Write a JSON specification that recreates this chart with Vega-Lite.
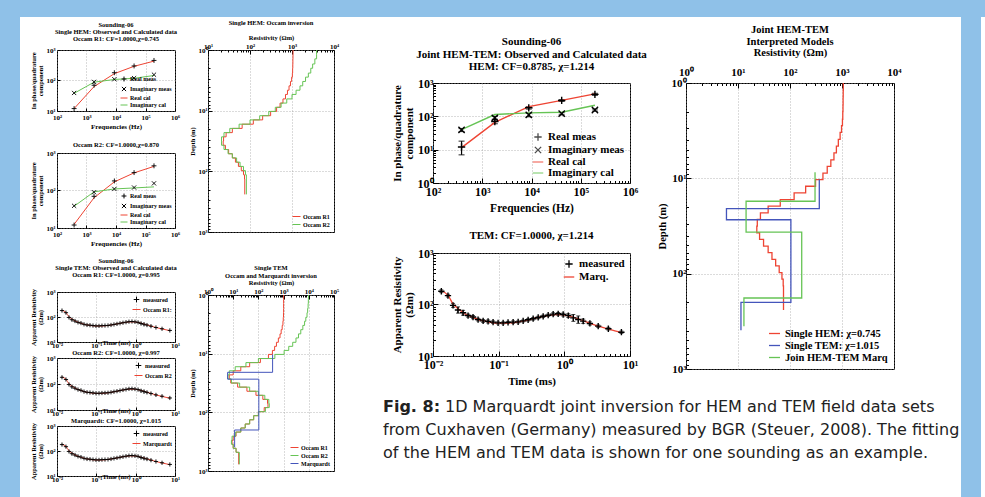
{
"$schema":"https://vega.github.io/schema/vega-lite/v6.json",
"padding":0,
"background":"white",
"config":{
 "view":{"stroke":"black","strokeWidth":1},
 "font":"Liberation Serif",
 "axis":{"labelFont":"Liberation Serif","titleFont":"Liberation Serif","labelFontWeight":"bold","titleFontWeight":"bold","labelColor":"black","titleColor":"black","domain":false,"grid":true,"gridColor":"#999999","gridDash":[1,2],"gridWidth":0.7,"tickColor":"black","tickSize":-3,"labelPadding":5,"titlePadding":2,"labelFlush":false,"labelOverlap":false},
 "title":{"font":"Liberation Serif","fontWeight":"bold","color":"black","anchor":"middle"},
 "legend":{"labelFont":"Liberation Serif","labelFontWeight":"bold","labelColor":"black","rowPadding":0,"padding":1},
 "concat":{"spacing":0}
},
"datasets":{
 "hem_meas":[
  {"type":"Real meas","f":380,"v":12,"lo":7,"hi":18},
  {"type":"Real meas","f":1800,"v":70,"lo":60,"hi":82},
  {"type":"Real meas","f":8800,"v":180,"lo":165,"hi":195},
  {"type":"Real meas","f":41000,"v":300,"lo":280,"hi":320},
  {"type":"Real meas","f":194000,"v":455,"lo":425,"hi":490},
  {"type":"Imaginary meas","f":380,"v":39,"lo":35,"hi":43},
  {"type":"Imaginary meas","f":1800,"v":90,"lo":80,"hi":100},
  {"type":"Imaginary meas","f":8800,"v":110,"lo":97,"hi":123},
  {"type":"Imaginary meas","f":41000,"v":120,"lo":110,"hi":130},
  {"type":"Imaginary meas","f":194000,"v":155,"lo":143,"hi":167}],
 "hem_r1_cal":[
  {"type":"Real cal","f":380,"v":12},{"type":"Real cal","f":1800,"v":63},{"type":"Real cal","f":8800,"v":168},{"type":"Real cal","f":41000,"v":292},{"type":"Real cal","f":194000,"v":432},
  {"type":"Imaginary cal","f":380,"v":38},{"type":"Imaginary cal","f":1800,"v":88},{"type":"Imaginary cal","f":8800,"v":108},{"type":"Imaginary cal","f":41000,"v":118},{"type":"Imaginary cal","f":194000,"v":146}],
 "hem_r2_cal":[
  {"type":"Real cal","f":380,"v":12.5},{"type":"Real cal","f":1800,"v":64},{"type":"Real cal","f":8800,"v":170},{"type":"Real cal","f":41000,"v":295},{"type":"Real cal","f":194000,"v":440},
  {"type":"Imaginary cal","f":380,"v":38},{"type":"Imaginary cal","f":1800,"v":92},{"type":"Imaginary cal","f":8800,"v":110},{"type":"Imaginary cal","f":41000,"v":117},{"type":"Imaginary cal","f":194000,"v":125}],
 "hem_joint_cal":[
  {"type":"Real cal","f":380,"v":11.5},{"type":"Real cal","f":1800,"v":66},{"type":"Real cal","f":8800,"v":195},{"type":"Real cal","f":41000,"v":300},{"type":"Real cal","f":194000,"v":470},
  {"type":"Imaginary cal","f":380,"v":40},{"type":"Imaginary cal","f":1800,"v":113},{"type":"Imaginary cal","f":8800,"v":127},{"type":"Imaginary cal","f":41000,"v":133},{"type":"Imaginary cal","f":194000,"v":215}],
 "tem_meas":[
  {"t":0.0134,"rho":181,"lo":170,"hi":193},{"t":0.0169,"rho":149,"lo":140,"hi":158},{"t":0.0202,"rho":96,"lo":88,"hi":105},{"t":0.024,"rho":78,"lo":68,"hi":90},{"t":0.0287,"rho":69,"lo":62,"hi":77},{"t":0.0342,"rho":61,"lo":57,"hi":65},{"t":0.0407,"rho":57,"lo":53,"hi":61},{"t":0.0486,"rho":51,"lo":48,"hi":54},{"t":0.058,"rho":48,"lo":45,"hi":51},{"t":0.069,"rho":47,"lo":44,"hi":50},{"t":0.0822,"rho":45.5,"lo":43,"hi":48},{"t":0.098,"rho":44,"lo":42,"hi":46},{"t":0.117,"rho":44,"lo":42,"hi":46},{"t":0.139,"rho":45,"lo":43,"hi":47},{"t":0.166,"rho":45.5,"lo":43,"hi":48},{"t":0.198,"rho":46,"lo":44,"hi":48},{"t":0.236,"rho":48,"lo":46,"hi":50},{"t":0.281,"rho":50.5,"lo":48,"hi":53},{"t":0.335,"rho":53,"lo":50,"hi":56},{"t":0.4,"rho":56,"lo":53,"hi":59},{"t":0.476,"rho":59,"lo":56,"hi":62},{"t":0.568,"rho":62,"lo":59,"hi":65},{"t":0.676,"rho":65,"lo":61,"hi":69},{"t":0.806,"rho":66,"lo":62,"hi":70},{"t":0.96,"rho":64,"lo":60,"hi":68},{"t":1.15,"rho":61,"lo":56,"hi":66},{"t":1.37,"rho":55,"lo":47,"hi":64},{"t":1.63,"rho":51,"lo":43,"hi":60},{"t":1.94,"rho":47.6,"lo":43,"hi":52},{"t":2.45,"rho":42.9,"lo":40,"hi":46},{"t":3.28,"rho":38,"lo":36,"hi":40},{"t":4.68,"rho":33.8,"lo":32,"hi":36},{"t":7.4,"rho":29,"lo":27.5,"hi":30.5}],
 "tem_cal":[
  {"t":0.0134,"rho":185},{"t":0.017,"rho":150},{"t":0.02,"rho":104},{"t":0.025,"rho":80},{"t":0.03,"rho":67},{"t":0.04,"rho":57},{"t":0.05,"rho":50.5},{"t":0.065,"rho":47},{"t":0.08,"rho":44.5},{"t":0.1,"rho":43.5},{"t":0.13,"rho":43.5},{"t":0.17,"rho":44.5},{"t":0.22,"rho":47},{"t":0.3,"rho":51},{"t":0.4,"rho":56},{"t":0.55,"rho":61},{"t":0.7,"rho":63.5},{"t":0.9,"rho":63.5},{"t":1.1,"rho":61},{"t":1.4,"rho":56},{"t":1.8,"rho":50},{"t":2.5,"rho":43},{"t":3.5,"rho":37},{"t":5,"rho":32.5},{"t":7.4,"rho":28.5}],
 "hem_models":[
  {"m":"Occam R1","d":1,"r":1060},{"m":"Occam R1","d":1.2,"r":1055},{"m":"Occam R1","d":1.4,"r":1050},{"m":"Occam R1","d":1.7,"r":1045},{"m":"Occam R1","d":2,"r":1035},{"m":"Occam R1","d":2.4,"r":1020},{"m":"Occam R1","d":2.8,"r":980},{"m":"Occam R1","d":3.3,"r":920},{"m":"Occam R1","d":3.9,"r":850},{"m":"Occam R1","d":4.6,"r":780},{"m":"Occam R1","d":5.4,"r":700},{"m":"Occam R1","d":6.4,"r":610},{"m":"Occam R1","d":7.5,"r":520},{"m":"Occam R1","d":8.8,"r":430},{"m":"Occam R1","d":10.3,"r":310},{"m":"Occam R1","d":12.1,"r":200},{"m":"Occam R1","d":14.2,"r":120},{"m":"Occam R1","d":16.7,"r":65},{"m":"Occam R1","d":19.6,"r":38},{"m":"Occam R1","d":23,"r":27},{"m":"Occam R1","d":27,"r":23.5},{"m":"Occam R1","d":31.7,"r":23},{"m":"Occam R1","d":37.2,"r":26},{"m":"Occam R1","d":43.7,"r":31},{"m":"Occam R1","d":51.3,"r":38},{"m":"Occam R1","d":60.2,"r":45},{"m":"Occam R1","d":70.7,"r":53},{"m":"Occam R1","d":83,"r":62},{"m":"Occam R1","d":97.4,"r":70},{"m":"Occam R1","d":114,"r":74},{"m":"Occam R1","d":134,"r":75},{"m":"Occam R1","d":240,"r":75},
  {"m":"Occam R2","d":1,"r":3850},{"m":"Occam R2","d":1.2,"r":3850},{"m":"Occam R2","d":1.4,"r":3500},{"m":"Occam R2","d":1.7,"r":3100},{"m":"Occam R2","d":2,"r":2800},{"m":"Occam R2","d":2.4,"r":2450},{"m":"Occam R2","d":2.8,"r":2100},{"m":"Occam R2","d":3.3,"r":1800},{"m":"Occam R2","d":3.9,"r":1550},{"m":"Occam R2","d":4.6,"r":1250},{"m":"Occam R2","d":5.4,"r":1000},{"m":"Occam R2","d":6.4,"r":750},{"m":"Occam R2","d":7.5,"r":550},{"m":"Occam R2","d":8.8,"r":400},{"m":"Occam R2","d":10.3,"r":280},{"m":"Occam R2","d":12.1,"r":170},{"m":"Occam R2","d":14.2,"r":100},{"m":"Occam R2","d":16.7,"r":55},{"m":"Occam R2","d":19.6,"r":33},{"m":"Occam R2","d":23,"r":24},{"m":"Occam R2","d":27,"r":21},{"m":"Occam R2","d":31.7,"r":21},{"m":"Occam R2","d":37.2,"r":24},{"m":"Occam R2","d":43.7,"r":30},{"m":"Occam R2","d":51.3,"r":38},{"m":"Occam R2","d":60.2,"r":48},{"m":"Occam R2","d":70.7,"r":58},{"m":"Occam R2","d":83,"r":70},{"m":"Occam R2","d":97.4,"r":78},{"m":"Occam R2","d":114,"r":82},{"m":"Occam R2","d":134,"r":82},{"m":"Occam R2","d":240,"r":82}],
 "tem_models":[
  {"m":"Occam R1","d":1,"r":1000},{"m":"Occam R1","d":1.2,"r":1000},{"m":"Occam R1","d":1.4,"r":1000},{"m":"Occam R1","d":1.7,"r":1000},{"m":"Occam R1","d":2,"r":990},{"m":"Occam R1","d":2.4,"r":970},{"m":"Occam R1","d":2.8,"r":940},{"m":"Occam R1","d":3.3,"r":880},{"m":"Occam R1","d":3.9,"r":800},{"m":"Occam R1","d":4.6,"r":720},{"m":"Occam R1","d":5.4,"r":620},{"m":"Occam R1","d":6.4,"r":520},{"m":"Occam R1","d":7.5,"r":440},{"m":"Occam R1","d":8.8,"r":360},{"m":"Occam R1","d":10.3,"r":250},{"m":"Occam R1","d":12.1,"r":120},{"m":"Occam R1","d":14.2,"r":45},{"m":"Occam R1","d":16.7,"r":20},{"m":"Occam R1","d":19.6,"r":10},{"m":"Occam R1","d":23,"r":7},{"m":"Occam R1","d":27,"r":8},{"m":"Occam R1","d":31.7,"r":15},{"m":"Occam R1","d":37.2,"r":35},{"m":"Occam R1","d":43.7,"r":80},{"m":"Occam R1","d":51.3,"r":150},{"m":"Occam R1","d":60.2,"r":230},{"m":"Occam R1","d":70.7,"r":240},{"m":"Occam R1","d":83,"r":170},{"m":"Occam R1","d":97.4,"r":100},{"m":"Occam R1","d":114,"r":65},{"m":"Occam R1","d":134,"r":45},{"m":"Occam R1","d":158,"r":30},{"m":"Occam R1","d":185,"r":20},{"m":"Occam R1","d":217,"r":13},{"m":"Occam R1","d":255,"r":10},{"m":"Occam R1","d":300,"r":9},{"m":"Occam R1","d":350,"r":10},{"m":"Occam R1","d":410,"r":13},{"m":"Occam R1","d":480,"r":16.5},{"m":"Occam R1","d":770,"r":16.5},
  {"m":"Occam R2","d":1,"r":9700},{"m":"Occam R2","d":1.2,"r":9600},{"m":"Occam R2","d":1.4,"r":9400},{"m":"Occam R2","d":1.7,"r":9000},{"m":"Occam R2","d":2,"r":8500},{"m":"Occam R2","d":2.4,"r":7600},{"m":"Occam R2","d":2.8,"r":6800},{"m":"Occam R2","d":3.3,"r":5800},{"m":"Occam R2","d":3.9,"r":4800},{"m":"Occam R2","d":4.6,"r":3900},{"m":"Occam R2","d":5.4,"r":3100},{"m":"Occam R2","d":6.4,"r":2300},{"m":"Occam R2","d":7.5,"r":1600},{"m":"Occam R2","d":8.8,"r":1050},{"m":"Occam R2","d":10.3,"r":450},{"m":"Occam R2","d":12.1,"r":100},{"m":"Occam R2","d":14.2,"r":32},{"m":"Occam R2","d":16.7,"r":12},{"m":"Occam R2","d":19.6,"r":7},{"m":"Occam R2","d":23,"r":6.2},{"m":"Occam R2","d":27,"r":8.5},{"m":"Occam R2","d":31.7,"r":18},{"m":"Occam R2","d":37.2,"r":45},{"m":"Occam R2","d":43.7,"r":100},{"m":"Occam R2","d":51.3,"r":180},{"m":"Occam R2","d":60.2,"r":260},{"m":"Occam R2","d":70.7,"r":270},{"m":"Occam R2","d":83,"r":190},{"m":"Occam R2","d":97.4,"r":100},{"m":"Occam R2","d":114,"r":65},{"m":"Occam R2","d":134,"r":45},{"m":"Occam R2","d":158,"r":30},{"m":"Occam R2","d":185,"r":20},{"m":"Occam R2","d":217,"r":12.5},{"m":"Occam R2","d":255,"r":9},{"m":"Occam R2","d":300,"r":8.5},{"m":"Occam R2","d":350,"r":10},{"m":"Occam R2","d":410,"r":13},{"m":"Occam R2","d":480,"r":17.5},{"m":"Occam R2","d":770,"r":17.5},
  {"m":"Marquardt","d":10.3,"r":366},{"m":"Marquardt","d":20.8,"r":6},{"m":"Marquardt","d":27.2,"r":104},{"m":"Marquardt","d":200,"r":11.4},{"m":"Marquardt","d":393,"r":11.4}],
 "joint_models":[
  {"m":"Single HEM: χ=0.745","d":1,"r":1060},{"m":"Single HEM: χ=0.745","d":1.2,"r":1055},{"m":"Single HEM: χ=0.745","d":1.4,"r":1050},{"m":"Single HEM: χ=0.745","d":1.7,"r":1045},{"m":"Single HEM: χ=0.745","d":2,"r":1035},{"m":"Single HEM: χ=0.745","d":2.4,"r":1020},{"m":"Single HEM: χ=0.745","d":2.8,"r":980},{"m":"Single HEM: χ=0.745","d":3.3,"r":920},{"m":"Single HEM: χ=0.745","d":3.9,"r":850},{"m":"Single HEM: χ=0.745","d":4.6,"r":780},{"m":"Single HEM: χ=0.745","d":5.4,"r":700},{"m":"Single HEM: χ=0.745","d":6.4,"r":610},{"m":"Single HEM: χ=0.745","d":7.5,"r":520},{"m":"Single HEM: χ=0.745","d":8.8,"r":430},{"m":"Single HEM: χ=0.745","d":10.3,"r":310},{"m":"Single HEM: χ=0.745","d":12.1,"r":200},{"m":"Single HEM: χ=0.745","d":14.2,"r":120},{"m":"Single HEM: χ=0.745","d":16.7,"r":65},{"m":"Single HEM: χ=0.745","d":19.6,"r":38},{"m":"Single HEM: χ=0.745","d":23,"r":27},{"m":"Single HEM: χ=0.745","d":27,"r":23.5},{"m":"Single HEM: χ=0.745","d":31.7,"r":23},{"m":"Single HEM: χ=0.745","d":37.2,"r":26},{"m":"Single HEM: χ=0.745","d":43.7,"r":31},{"m":"Single HEM: χ=0.745","d":51.3,"r":38},{"m":"Single HEM: χ=0.745","d":60.2,"r":45},{"m":"Single HEM: χ=0.745","d":70.7,"r":53},{"m":"Single HEM: χ=0.745","d":83,"r":62},{"m":"Single HEM: χ=0.745","d":97.4,"r":70},{"m":"Single HEM: χ=0.745","d":114,"r":74},{"m":"Single HEM: χ=0.745","d":134,"r":75},{"m":"Single HEM: χ=0.745","d":240,"r":75},
  {"m":"Single TEM: χ=1.015","d":10.3,"r":366},{"m":"Single TEM: χ=1.015","d":20.8,"r":6},{"m":"Single TEM: χ=1.015","d":27.2,"r":104},{"m":"Single TEM: χ=1.015","d":200,"r":11.4},{"m":"Single TEM: χ=1.015","d":393,"r":11.4},
  {"m":"Join HEM-TEM Marq","d":8.65,"r":303},{"m":"Join HEM-TEM Marq","d":17.4,"r":14.3},{"m":"Join HEM-TEM Marq","d":36.6,"r":168},{"m":"Join HEM-TEM Marq","d":180,"r":13},{"m":"Join HEM-TEM Marq","d":357,"r":13}],
 "caption":[
  {"line":1,"bold":"Fig. 8:","txt":"1D Marquardt joint inversion for HEM and TEM field data sets"},
  {"line":2,"bold":"","txt":"from Cuxhaven (Germany) measured by BGR (Steuer, 2008). The fitting"},
  {"line":3,"bold":"","txt":"of the HEM and TEM data is shown for one sounding as an example."}]
},
"spacing":0,
"resolve":{"scale":{"color":"independent","shape":"independent"},"legend":{"color":"independent","shape":"independent"}},
"vconcat":[
 {"width":985,"height":17,"view":{"fill":"#8fc1e8","stroke":null},"data":{"values":[{}]},"mark":{"type":"rect","opacity":0}},
 {"spacing":1,"resolve":{"scale":{"color":"independent","shape":"independent"},"legend":{"color":"independent","shape":"independent"}},"hconcat":[
 {"spacing":10,"resolve":{"scale":{"color":"independent","shape":"independent"},"legend":{"color":"independent","shape":"independent"}},"hconcat":[
 {"width":20,"height":480,"view":{"fill":"#8fc1e8","stroke":null},"data":{"values":[{}]},"mark":{"type":"rect","opacity":0}},
  {"spacing":43,"resolve":{"scale":{"color":"independent","shape":"independent"},"legend":{"color":"independent","shape":"independent"}},"hconcat":[
   {"spacing":0,"resolve":{"scale":{"color":"independent","shape":"independent"},"legend":{"color":"independent","shape":"independent"}},"vconcat":[
   {"width":1,"height":2,"view":{"stroke":null},"data":{"values":[{}]},"mark":{"type":"rect","opacity":0}},
   {"spacing":8,"resolve":{"scale":{"color":"independent","shape":"independent"},"legend":{"color":"independent","shape":"independent"}},"hconcat":[
    {"spacing":10,"resolve":{"scale":{"color":"independent","shape":"independent"},"legend":{"color":"independent","shape":"independent"}},"vconcat":[
     {"spacing":11,"resolve":{"scale":{"color":"independent","shape":"independent"},"legend":{"color":"independent","shape":"independent"}},"vconcat":[
      {"width":118,"height":61,
       "title":{"text":["Sounding-06","Single HEM: Observed and Calculated data","Occam R1: CF=1.0000,χ=0.745"],"fontSize":6.5,"lineHeight":7,"offset":4},
       "encoding":{
        "x":{"field":"f","type":"quantitative","scale":{"type":"log","domain":[100,1000000]},"axis":{"title":"Frequencies (Hz)","values":[100,1000,10000,100000,1000000],"labelExpr":"'10' + ['⁻²','⁻¹','⁰','¹','²','³','⁴','⁵','⁶'][round(log(datum.value)/LN10)+2]","labelFontSize":7,"titleFontSize":7}},
        "y":{"field":"v","type":"quantitative","scale":{"type":"log","domain":[10,1000]},"axis":{"title":["In phase/quadrature","component"],"values":[10,100,1000],"labelExpr":"'10' + ['⁻²','⁻¹','⁰','¹','²','³','⁴','⁵','⁶'][round(log(datum.value)/LN10)+2]","labelFontSize":7,"titleFontSize":6.5,"titleLineHeight":7}},
        "color":{"field":"type","type":"nominal","scale":{"domain":["Real meas","Imaginary meas","Real cal","Imaginary cal"],"range":["black","black","#ee4433","#66c455"]},"legend":{"title":null,"orient":"bottom-right","labelFontSize":6,"symbolSize":49,"offset":2,"symbolStrokeWidth":1,"labelOffset":2}}
       },
       "layer":[
        {"data":{"name":"hem_r1_cal"},"mark":{"type":"line","strokeWidth":1}},
        {"data":{"name":"hem_meas"},"mark":{"type":"point","filled":false,"size":49,"strokeWidth":0.9,"opacity":1},"encoding":{"shape":{"field":"type","type":"nominal","scale":{"domain":["Real meas","Imaginary meas","Real cal","Imaginary cal"],"range":["M-0.7,0L0.7,0M0,-0.7L0,0.7","M-0.6,-0.6L0.6,0.6M-0.6,0.6L0.6,-0.6","stroke","stroke"]},"legend":{"title":null,"orient":"bottom-right","labelFontSize":6,"symbolSize":49,"offset":2,"symbolStrokeWidth":1,"labelOffset":2}}}}
       ]},
      {"width":118,"height":75,
       "title":{"text":"Occam R2: CF=1.0000,χ=0.870","fontSize":6.5,"offset":1},
       "encoding":{
        "x":{"field":"f","type":"quantitative","scale":{"type":"log","domain":[100,1000000]},"axis":{"title":"Frequencies (Hz)","values":[100,1000,10000,100000,1000000],"labelExpr":"'10' + ['⁻²','⁻¹','⁰','¹','²','³','⁴','⁵','⁶'][round(log(datum.value)/LN10)+2]","labelFontSize":7,"titleFontSize":7}},
        "y":{"field":"v","type":"quantitative","scale":{"type":"log","domain":[10,1000]},"axis":{"title":["In phase/quadrature","component"],"values":[10,100,1000],"labelExpr":"'10' + ['⁻²','⁻¹','⁰','¹','²','³','⁴','⁵','⁶'][round(log(datum.value)/LN10)+2]","labelFontSize":7,"titleFontSize":6.5,"titleLineHeight":7}},
        "color":{"field":"type","type":"nominal","scale":{"domain":["Real meas","Imaginary meas","Real cal","Imaginary cal"],"range":["black","black","#ee4433","#66c455"]},"legend":{"title":null,"orient":"bottom-right","labelFontSize":6,"symbolSize":49,"offset":2,"symbolStrokeWidth":1,"labelOffset":2}}
       },
       "layer":[
        {"data":{"name":"hem_r2_cal"},"mark":{"type":"line","strokeWidth":1}},
        {"data":{"name":"hem_meas"},"mark":{"type":"point","filled":false,"size":49,"strokeWidth":0.9,"opacity":1},"encoding":{"shape":{"field":"type","type":"nominal","scale":{"domain":["Real meas","Imaginary meas","Real cal","Imaginary cal"],"range":["M-0.7,0L0.7,0M0,-0.7L0,0.7","M-0.6,-0.6L0.6,0.6M-0.6,0.6L0.6,-0.6","stroke","stroke"]},"legend":{"title":null,"orient":"bottom-right","labelFontSize":6,"symbolSize":49,"offset":2,"symbolStrokeWidth":1,"labelOffset":2}}}}
       ]}
     ]},
     {"spacing":0,"resolve":{"scale":{"color":"independent","shape":"independent"},"legend":{"color":"independent","shape":"independent"}},"vconcat":[
      {"width":118,"height":50,
       "title":{"text":["Sounding-06","Single TEM: Observed and Calculated data","Occam R1: CF=1.0000, χ=0.995"],"fontSize":6.5,"lineHeight":7,"offset":10},
       "encoding":{
        "x":{"field":"t","type":"quantitative","scale":{"type":"log","domain":[0.01,10]},"axis":{"title":"Time (ms)","values":[0.01,0.1,1,10],"labelExpr":"'10' + ['⁻²','⁻¹','⁰','¹','²','³','⁴','⁵','⁶'][round(log(datum.value)/LN10)+2]","labelFontSize":7,"titleFontSize":6.5,"titlePadding":-9,"labelPadding":2}},
        "y":{"field":"rho","type":"quantitative","scale":{"type":"log","domain":[10,1000]},"axis":{"title":["Apparent Resistivity","(Ωm)"],"values":[10,100,1000],"labelExpr":"'10' + ['⁻²','⁻¹','⁰','¹','²','³','⁴','⁵','⁶'][round(log(datum.value)/LN10)+2]","labelFontSize":7,"titleFontSize":6.5,"titleLineHeight":7}}
       },
       "layer":[
        {"data":{"name":"tem_meas"},"mark":{"type":"rule","color":"black","strokeWidth":0.6},"encoding":{"y":{"field":"lo","type":"quantitative"},"y2":{"field":"hi"}}},
        {"data":{"name":"tem_cal"},"mark":{"type":"line","strokeWidth":1,"interpolate":"monotone"},"encoding":{"color":{"datum":"Occam R1:","type":"nominal","scale":{"domain":["measured","Occam R1:"],"range":["black","#ee4433"]},"legend":{"title":null,"orient":"top-right","labelFontSize":6,"symbolSize":64,"offset":2,"symbolStrokeWidth":1,"labelOffset":2}}}},
        {"data":{"name":"tem_meas"},"mark":{"type":"point","filled":false,"size":36,"strokeWidth":0.9,"opacity":1},"encoding":{"color":{"datum":"measured","type":"nominal"},"shape":{"datum":"measured","type":"nominal","scale":{"domain":["measured","Occam R1:"],"range":["M-0.7,0L0.7,0M0,-0.7L0,0.7","stroke"]},"legend":{"title":null,"orient":"top-right","labelFontSize":6,"symbolSize":64,"offset":2,"symbolStrokeWidth":1,"labelOffset":2}}}}
       ]},
      {"width":118,"height":52,
       "title":{"text":"Occam R2: CF=1.0000, χ=0.997","fontSize":6.5,"offset":-2},
       "encoding":{
        "x":{"field":"t","type":"quantitative","scale":{"type":"log","domain":[0.01,10]},"axis":{"title":"Time (ms)","values":[0.01,0.1,1,10],"labelExpr":"'10' + ['⁻²','⁻¹','⁰','¹','²','³','⁴','⁵','⁶'][round(log(datum.value)/LN10)+2]","labelFontSize":7,"titleFontSize":6.5,"titlePadding":-9,"labelPadding":2}},
        "y":{"field":"rho","type":"quantitative","scale":{"type":"log","domain":[10,1000]},"axis":{"title":["Apparent Resistivity","(Ωm)"],"values":[10,100,1000],"labelExpr":"'10' + ['⁻²','⁻¹','⁰','¹','²','³','⁴','⁵','⁶'][round(log(datum.value)/LN10)+2]","labelFontSize":7,"titleFontSize":6.5,"titleLineHeight":7}}
       },
       "layer":[
        {"data":{"name":"tem_meas"},"mark":{"type":"rule","color":"black","strokeWidth":0.6},"encoding":{"y":{"field":"lo","type":"quantitative"},"y2":{"field":"hi"}}},
        {"data":{"name":"tem_cal"},"mark":{"type":"line","strokeWidth":1,"interpolate":"monotone"},"encoding":{"color":{"datum":"Occam R2","type":"nominal","scale":{"domain":["measured","Occam R2"],"range":["black","#ee4433"]},"legend":{"title":null,"orient":"top-right","labelFontSize":6,"symbolSize":64,"offset":2,"symbolStrokeWidth":1,"labelOffset":2}}}},
        {"data":{"name":"tem_meas"},"mark":{"type":"point","filled":false,"size":36,"strokeWidth":0.9,"opacity":1},"encoding":{"color":{"datum":"measured","type":"nominal"},"shape":{"datum":"measured","type":"nominal","scale":{"domain":["measured","Occam R2"],"range":["M-0.7,0L0.7,0M0,-0.7L0,0.7","stroke"]},"legend":{"title":null,"orient":"top-right","labelFontSize":6,"symbolSize":64,"offset":2,"symbolStrokeWidth":1,"labelOffset":2}}}}
       ]},
      {"width":118,"height":50,
       "title":{"text":"Marquardt: CF=1.0000, χ=1.015","fontSize":6.5,"offset":-2},
       "encoding":{
        "x":{"field":"t","type":"quantitative","scale":{"type":"log","domain":[0.01,10]},"axis":{"title":"Time (ms)","values":[0.01,0.1,1,10],"labelExpr":"'10' + ['⁻²','⁻¹','⁰','¹','²','³','⁴','⁵','⁶'][round(log(datum.value)/LN10)+2]","labelFontSize":7,"titleFontSize":6.5,"titlePadding":-9,"labelPadding":2}},
        "y":{"field":"rho","type":"quantitative","scale":{"type":"log","domain":[10,1000]},"axis":{"title":["Apparent Resistivity","(Ωm)"],"values":[10,100,1000],"labelExpr":"'10' + ['⁻²','⁻¹','⁰','¹','²','³','⁴','⁵','⁶'][round(log(datum.value)/LN10)+2]","labelFontSize":7,"titleFontSize":6.5,"titleLineHeight":7}}
       },
       "layer":[
        {"data":{"name":"tem_meas"},"mark":{"type":"rule","color":"black","strokeWidth":0.6},"encoding":{"y":{"field":"lo","type":"quantitative"},"y2":{"field":"hi"}}},
        {"data":{"name":"tem_cal"},"mark":{"type":"line","strokeWidth":1,"interpolate":"monotone"},"encoding":{"color":{"datum":"Marquardt","type":"nominal","scale":{"domain":["measured","Marquardt"],"range":["black","#ee4433"]},"legend":{"title":null,"orient":"top-right","labelFontSize":6,"symbolSize":64,"offset":2,"symbolStrokeWidth":1,"labelOffset":2}}}},
        {"data":{"name":"tem_meas"},"mark":{"type":"point","filled":false,"size":36,"strokeWidth":0.9,"opacity":1},"encoding":{"color":{"datum":"measured","type":"nominal"},"shape":{"datum":"measured","type":"nominal","scale":{"domain":["measured","Marquardt"],"range":["M-0.7,0L0.7,0M0,-0.7L0,0.7","stroke"]},"legend":{"title":null,"orient":"top-right","labelFontSize":6,"symbolSize":64,"offset":2,"symbolStrokeWidth":1,"labelOffset":2}}}}
       ]}
     ]}
    ]},
    {"spacing":28,"resolve":{"scale":{"color":"independent","shape":"independent"},"legend":{"color":"independent","shape":"independent"}},"vconcat":[
     {"width":126,"height":182,
      "title":{"text":"Single HEM: Occam inversion","fontSize":6.5,"offset":8},
      "data":{"name":"hem_models"},
      "mark":{"type":"line","interpolate":"step-before","strokeWidth":1},
      "encoding":{
       "x":{"field":"r","type":"quantitative","scale":{"type":"log","domain":[10,10000]},"axis":{"orient":"top","title":"Resistivity (Ωm)","values":[10,20,30,40,50,60,70,80,90,100,200,300,400,500,600,700,800,900,1000,2000,3000,4000,5000,6000,7000,8000,9000,10000],"labelExpr":"abs(log(datum.value)/LN10 - round(log(datum.value)/LN10)) < 0.01 ? '10' + ['⁻²','⁻¹','⁰','¹','²','³','⁴','⁵','⁶'][round(log(datum.value)/LN10)+2] : ''","gridOpacity":{"condition":{"test":"abs(log(datum.value)/LN10 - round(log(datum.value)/LN10)) < 0.01","value":1},"value":0},"tickSize":{"condition":{"test":"abs(log(datum.value)/LN10 - round(log(datum.value)/LN10)) < 0.01","value":-4},"value":-2},"labelFontSize":7,"titleFontSize":6.5,"titlePadding":0}},
       "y":{"field":"d","type":"quantitative","scale":{"type":"log","domain":[1,1000],"reverse":true},"axis":{"title":"Depth (m)","values":[1,2,3,4,5,6,7,8,9,10,20,30,40,50,60,70,80,90,100,200,300,400,500,600,700,800,900,1000],"labelExpr":"abs(log(datum.value)/LN10 - round(log(datum.value)/LN10)) < 0.01 ? '10' + ['⁻²','⁻¹','⁰','¹','²','³','⁴','⁵','⁶'][round(log(datum.value)/LN10)+2] : ''","gridOpacity":{"condition":{"test":"abs(log(datum.value)/LN10 - round(log(datum.value)/LN10)) < 0.01","value":1},"value":0},"tickSize":{"condition":{"test":"abs(log(datum.value)/LN10 - round(log(datum.value)/LN10)) < 0.01","value":-4},"value":-2},"labelFontSize":7,"titleFontSize":6.5}},
       "color":{"field":"m","type":"nominal","scale":{"domain":["Occam R1","Occam R2"],"range":["#ee4433","#66c455"]},"legend":{"title":null,"orient":"bottom-right","labelFontSize":6,"symbolSize":64,"offset":3,"symbolStrokeWidth":1,"labelOffset":2}},
       "order":{"field":"d","type":"quantitative"}
      }},
     {"width":126,"height":176,
      "title":{"text":["Single TEM","Occam and Marquardt inversion"],"fontSize":6.5,"lineHeight":7.5,"offset":0},
      "data":{"name":"tem_models"},
      "mark":{"type":"line","interpolate":"step-before","strokeWidth":1},
      "encoding":{
       "x":{"field":"r","type":"quantitative","scale":{"type":"log","domain":[1,100000]},"axis":{"orient":"top","title":"Resistivity (Ωm)","values":[1,2,3,4,5,6,7,8,9,10,20,30,40,50,60,70,80,90,100,200,300,400,500,600,700,800,900,1000,2000,3000,4000,5000,6000,7000,8000,9000,10000,20000,30000,40000,50000,60000,70000,80000,90000,100000],"labelExpr":"abs(log(datum.value)/LN10 - round(log(datum.value)/LN10)) < 0.01 ? '10' + ['⁻²','⁻¹','⁰','¹','²','³','⁴','⁵','⁶'][round(log(datum.value)/LN10)+2] : ''","gridOpacity":{"condition":{"test":"abs(log(datum.value)/LN10 - round(log(datum.value)/LN10)) < 0.01","value":1},"value":0},"tickSize":{"condition":{"test":"abs(log(datum.value)/LN10 - round(log(datum.value)/LN10)) < 0.01","value":-4},"value":-2},"labelFontSize":7,"titleFontSize":6.5,"titlePadding":0}},
       "y":{"field":"d","type":"quantitative","scale":{"type":"log","domain":[1,1000],"reverse":true},"axis":{"title":"Depth (m)","values":[1,2,3,4,5,6,7,8,9,10,20,30,40,50,60,70,80,90,100,200,300,400,500,600,700,800,900,1000],"labelExpr":"abs(log(datum.value)/LN10 - round(log(datum.value)/LN10)) < 0.01 ? '10' + ['⁻²','⁻¹','⁰','¹','²','³','⁴','⁵','⁶'][round(log(datum.value)/LN10)+2] : ''","gridOpacity":{"condition":{"test":"abs(log(datum.value)/LN10 - round(log(datum.value)/LN10)) < 0.01","value":1},"value":0},"tickSize":{"condition":{"test":"abs(log(datum.value)/LN10 - round(log(datum.value)/LN10)) < 0.01","value":-4},"value":-2},"labelFontSize":7,"titleFontSize":6.5}},
       "color":{"field":"m","type":"nominal","scale":{"domain":["Occam R1","Occam R2","Marquardt"],"range":["#ee4433","#66c455","#4455bb"]},"legend":{"title":null,"orient":"bottom-right","labelFontSize":6,"symbolSize":64,"offset":3,"symbolStrokeWidth":1,"labelOffset":2}},
       "order":{"field":"d","type":"quantitative"}
      }}
    ]}
   ]}
   ]},
   {"spacing":0,"resolve":{"scale":{"color":"independent","shape":"independent"},"legend":{"color":"independent","shape":"independent"}},"vconcat":[
   {"width":1,"height":7,"view":{"stroke":null},"data":{"values":[{}]},"mark":{"type":"rect","opacity":0}},
   {"spacing":8,"resolve":{"scale":{"color":"independent","shape":"independent"},"legend":{"color":"independent","shape":"independent"}},"vconcat":[
    {"spacing":8,"resolve":{"scale":{"color":"independent","shape":"independent"},"legend":{"color":"independent","shape":"independent"}},"hconcat":[
     {"spacing":14,"resolve":{"scale":{"color":"independent","shape":"independent"},"legend":{"color":"independent","shape":"independent"}},"vconcat":[
      {"width":197,"height":100,
       "title":{"text":["Sounding-06","Joint HEM-TEM: Observed and Calculated data","HEM: CF=0.8785, χ=1.214"],"fontSize":11,"lineHeight":12.5,"offset":5},
       "encoding":{
        "x":{"field":"f","type":"quantitative","scale":{"type":"log","domain":[100,1000000]},"axis":{"title":"Frequencies (Hz)","values":[100,200,300,400,500,600,700,800,900,1000,2000,3000,4000,5000,6000,7000,8000,9000,10000,20000,30000,40000,50000,60000,70000,80000,90000,100000,200000,300000,400000,500000,600000,700000,800000,900000,1000000],"labelExpr":"abs(log(datum.value)/LN10 - round(log(datum.value)/LN10)) < 0.01 ? '10' + ['⁻²','⁻¹','⁰','¹','²','³','⁴','⁵','⁶'][round(log(datum.value)/LN10)+2] : ''","gridOpacity":{"condition":{"test":"abs(log(datum.value)/LN10 - round(log(datum.value)/LN10)) < 0.01","value":1},"value":0},"tickSize":{"condition":{"test":"abs(log(datum.value)/LN10 - round(log(datum.value)/LN10)) < 0.01","value":-5},"value":-2.5},"labelFontSize":12,"titleFontSize":11.5,"titlePadding":3,"labelPadding":8}},
        "y":{"field":"v","type":"quantitative","scale":{"type":"log","domain":[1,1000]},"axis":{"title":["In phase/quadrature","component"],"values":[1,2,3,4,5,6,7,8,9,10,20,30,40,50,60,70,80,90,100,200,300,400,500,600,700,800,900,1000],"labelExpr":"abs(log(datum.value)/LN10 - round(log(datum.value)/LN10)) < 0.01 ? '10' + ['⁻²','⁻¹','⁰','¹','²','³','⁴','⁵','⁶'][round(log(datum.value)/LN10)+2] : ''","gridOpacity":{"condition":{"test":"abs(log(datum.value)/LN10 - round(log(datum.value)/LN10)) < 0.01","value":1},"value":0},"tickSize":{"condition":{"test":"abs(log(datum.value)/LN10 - round(log(datum.value)/LN10)) < 0.01","value":-5},"value":-2.5},"labelFontSize":12,"titleFontSize":11,"titleLineHeight":11.5,"titlePadding":3}},
        "color":{"field":"type","type":"nominal","scale":{"domain":["Real meas","Imaginary meas","Real cal","Imaginary cal"],"range":["black","black","#ee4433","#66c455"]},"legend":{"title":null,"orient":"bottom-right","labelFontSize":11,"symbolSize":110,"offset":4,"symbolStrokeWidth":1.3,"labelOffset":4}}
       },
       "layer":[
        {"data":{"name":"hem_meas"},"mark":{"type":"rule","strokeWidth":1.2},"encoding":{"y":{"field":"lo","type":"quantitative"},"y2":{"field":"hi"}}},
        {"data":{"name":"hem_meas"},"mark":{"type":"tick","orient":"horizontal","size":6,"thickness":1.2},"encoding":{"y":{"field":"lo","type":"quantitative"}}},
        {"data":{"name":"hem_meas"},"mark":{"type":"tick","orient":"horizontal","size":6,"thickness":1.2},"encoding":{"y":{"field":"hi","type":"quantitative"}}},
        {"data":{"name":"hem_joint_cal"},"mark":{"type":"line","strokeWidth":1.4}},
        {"data":{"name":"hem_meas"},"mark":{"type":"point","filled":false,"size":110,"strokeWidth":1.4,"opacity":1},"encoding":{"shape":{"field":"type","type":"nominal","scale":{"domain":["Real meas","Imaginary meas","Real cal","Imaginary cal"],"range":["M-0.7,0L0.7,0M0,-0.7L0,0.7","M-0.6,-0.6L0.6,0.6M-0.6,0.6L0.6,-0.6","stroke","stroke"]},"legend":{"title":null,"orient":"bottom-right","labelFontSize":11,"symbolSize":110,"offset":4,"symbolStrokeWidth":1.3,"labelOffset":4}}}}
       ]},
      {"width":197,"height":103,
       "title":{"text":"TEM: CF=1.0000, χ=1.214","fontSize":11,"offset":6},
       "encoding":{
        "x":{"field":"t","type":"quantitative","scale":{"type":"log","domain":[0.01,10]},"axis":{"title":"Time (ms)","values":[0.01,0.02,0.03,0.04,0.05,0.06,0.07,0.08,0.09,0.1,0.2,0.3,0.4,0.5,0.6,0.7,0.8,0.9,1,2,3,4,5,6,7,8,9,10],"labelExpr":"abs(log(datum.value)/LN10 - round(log(datum.value)/LN10)) < 0.01 ? '10' + ['⁻²','⁻¹','⁰','¹','²','³','⁴','⁵','⁶'][round(log(datum.value)/LN10)+2] : ''","gridOpacity":{"condition":{"test":"abs(log(datum.value)/LN10 - round(log(datum.value)/LN10)) < 0.01","value":1},"value":0},"tickSize":{"condition":{"test":"abs(log(datum.value)/LN10 - round(log(datum.value)/LN10)) < 0.01","value":-5},"value":-2.5},"labelFontSize":12,"titleFontSize":11,"titlePadding":3,"labelPadding":8}},
        "y":{"field":"rho","type":"quantitative","scale":{"type":"log","domain":[10,1000]},"axis":{"title":["Apparent Resistivity","(Ωm)"],"values":[10,20,30,40,50,60,70,80,90,100,200,300,400,500,600,700,800,900,1000],"labelExpr":"abs(log(datum.value)/LN10 - round(log(datum.value)/LN10)) < 0.01 ? '10' + ['⁻²','⁻¹','⁰','¹','²','³','⁴','⁵','⁶'][round(log(datum.value)/LN10)+2] : ''","gridOpacity":{"condition":{"test":"abs(log(datum.value)/LN10 - round(log(datum.value)/LN10)) < 0.01","value":1},"value":0},"tickSize":{"condition":{"test":"abs(log(datum.value)/LN10 - round(log(datum.value)/LN10)) < 0.01","value":-5},"value":-2.5},"labelFontSize":12,"titleFontSize":11,"titleLineHeight":11.5,"titlePadding":3}}
       },
       "layer":[
        {"data":{"name":"tem_meas"},"mark":{"type":"rule","color":"black","strokeWidth":1},"encoding":{"y":{"field":"lo","type":"quantitative"},"y2":{"field":"hi"}}},
        {"data":{"name":"tem_meas"},"mark":{"type":"tick","orient":"horizontal","size":4,"thickness":1,"color":"black"},"encoding":{"y":{"field":"lo","type":"quantitative"}}},
        {"data":{"name":"tem_meas"},"mark":{"type":"tick","orient":"horizontal","size":4,"thickness":1,"color":"black"},"encoding":{"y":{"field":"hi","type":"quantitative"}}},
        {"data":{"name":"tem_cal"},"mark":{"type":"line","strokeWidth":1.3,"interpolate":"monotone"},"encoding":{"color":{"datum":"Marq.","type":"nominal","scale":{"domain":["measured","Marq."],"range":["black","#ee4433"]},"legend":{"title":null,"orient":"top-right","labelFontSize":11,"symbolSize":110,"offset":4,"symbolStrokeWidth":1.3,"labelOffset":4}}}},
        {"data":{"name":"tem_meas"},"mark":{"type":"point","filled":false,"size":81,"strokeWidth":1.4,"opacity":1},"encoding":{"color":{"datum":"measured","type":"nominal"},"shape":{"datum":"measured","type":"nominal","scale":{"domain":["measured","Marq."],"range":["M-0.7,0L0.7,0M0,-0.7L0,0.7","stroke"]},"legend":{"title":null,"orient":"top-right","labelFontSize":11,"symbolSize":110,"offset":4,"symbolStrokeWidth":1.3,"labelOffset":4}}}}
       ]}
     ]},
     {"width":208,"height":286,
      "title":{"text":["Joint HEM-TEM","Interpreted Models"],"fontSize":10.5,"lineHeight":12,"offset":0},
      "data":{"name":"joint_models"},
      "mark":{"type":"line","interpolate":"step-before","strokeWidth":1.3},
      "encoding":{
       "x":{"field":"r","type":"quantitative","scale":{"type":"log","domain":[1,10000]},"axis":{"orient":"top","title":"Resistivity (Ωm)","values":[1,2,3,4,5,6,7,8,9,10,20,30,40,50,60,70,80,90,100,200,300,400,500,600,700,800,900,1000,2000,3000,4000,5000,6000,7000,8000,9000,10000],"labelExpr":"abs(log(datum.value)/LN10 - round(log(datum.value)/LN10)) < 0.01 ? '10' + ['⁻²','⁻¹','⁰','¹','²','³','⁴','⁵','⁶'][round(log(datum.value)/LN10)+2] : ''","gridOpacity":{"condition":{"test":"abs(log(datum.value)/LN10 - round(log(datum.value)/LN10)) < 0.01","value":1},"value":0},"tickSize":{"condition":{"test":"abs(log(datum.value)/LN10 - round(log(datum.value)/LN10)) < 0.01","value":-5},"value":-2.5},"labelFontSize":11,"titleFontSize":10.5,"titlePadding":6,"labelPadding":11}},
       "y":{"field":"d","type":"quantitative","scale":{"type":"log","domain":[1,1000],"reverse":true},"axis":{"title":"Depth (m)","values":[1,2,3,4,5,6,7,8,9,10,20,30,40,50,60,70,80,90,100,200,300,400,500,600,700,800,900,1000],"labelExpr":"abs(log(datum.value)/LN10 - round(log(datum.value)/LN10)) < 0.01 ? '10' + ['⁻²','⁻¹','⁰','¹','²','³','⁴','⁵','⁶'][round(log(datum.value)/LN10)+2] : ''","gridOpacity":{"condition":{"test":"abs(log(datum.value)/LN10 - round(log(datum.value)/LN10)) < 0.01","value":1},"value":0},"tickSize":{"condition":{"test":"abs(log(datum.value)/LN10 - round(log(datum.value)/LN10)) < 0.01","value":-5},"value":-2.5},"labelFontSize":11,"titleFontSize":10.5,"titlePadding":4}},
       "color":{"field":"m","type":"nominal","scale":{"domain":["Single HEM: χ=0.745","Single TEM: χ=1.015","Join HEM-TEM Marq"],"range":["#ee4433","#4455bb","#66c455"]},"legend":{"title":null,"orient":"bottom-right","labelFontSize":10.5,"symbolSize":121,"offset":5,"symbolStrokeWidth":1.3,"labelOffset":4}},
       "order":{"field":"d","type":"quantitative"}
      }}
    ]},
    {"width":300,"height":69,"view":{"stroke":null},
     "data":{"name":"caption"},
     "encoding":{"y":{"field":"line","type":"ordinal","axis":null}},
     "layer":[
      {"transform":[{"filter":"datum.line == 1"}],"mark":{"type":"text","align":"left","baseline":"middle","font":"DejaVu Sans","fontSize":16,"fontWeight":"bold","color":"#222222","dx":-50},"encoding":{"x":{"value":0},"text":{"field":"bold"}}},
      {"transform":[{"filter":"datum.line == 1"}],"mark":{"type":"text","align":"left","baseline":"middle","font":"DejaVu Sans","fontSize":16,"color":"#222222","dx":12},"encoding":{"x":{"value":0},"text":{"field":"txt"}}},
      {"transform":[{"filter":"datum.line > 1"}],"mark":{"type":"text","align":"left","baseline":"middle","font":"DejaVu Sans","fontSize":16,"color":"#222222","dx":-50},"encoding":{"x":{"value":0},"text":{"field":"txt"}}}
     ]}
   ]}
   ]}
  ]}
 ]},
 {"width":20,"height":480,"view":{"fill":"#8fc1e8","stroke":null},"data":{"values":[{}]},"mark":{"type":"rect","opacity":0}}
 ]}
]
}
